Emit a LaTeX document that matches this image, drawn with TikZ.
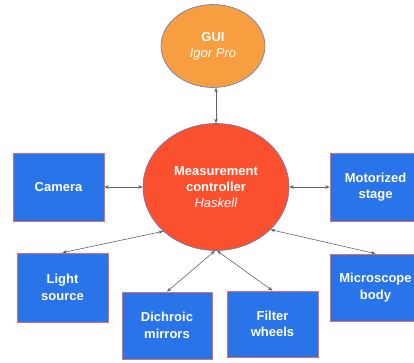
\documentclass[tikz,border=0pt]{standalone}
\usepackage{fontspec}
\setmainfont{Liberation Sans}
\usetikzlibrary{shapes.geometric,arrows.meta,shadows}

\definecolor{guiorange}{RGB}{246,158,64}
\definecolor{ctrlred}{RGB}{250,80,46}
\definecolor{boxblue}{RGB}{40,116,232}
\definecolor{boxedge}{RGB}{222,110,105}
\definecolor{ovaledge}{RGB}{90,125,195}
\definecolor{linkgray}{RGB}{100,100,100}

\tikzset{
  oval/.style={ellipse, draw=ovaledge, line width=0.6pt, inner sep=0pt,
    text=white, align=center, font=\fontsize{13}{16}\selectfont},
  device/.style={rectangle, draw=boxedge, line width=0.7pt, fill=boxblue,
    minimum width=91pt, minimum height=68pt, inner sep=0pt,
    text=white, align=center, font=\bfseries\fontsize{13}{16.5}\selectfont,
    drop shadow={shadow xshift=0.4pt, shadow yshift=-1.4pt, opacity=0.25}},
  link/.style={draw=linkgray, line width=0.6pt,
    {Stealth[length=4.5pt,width=3.6pt]}-{Stealth[length=4.5pt,width=3.6pt]}}
}

\begin{document}
\begin{tikzpicture}[x=1pt,y=-1pt]
  \useasboundingbox (0,0) rectangle (414,362);

  % ovals
  \node[oval, fill=guiorange, minimum width=104pt, minimum height=83pt]
    (gui) at (213,46) {\textbf{GUI}\\\textit{Igor Pro}};
  \node[oval, fill=ctrlred, minimum width=146pt, minimum height=127pt]
    (ctrl) at (216,187) {\textbf{Measurement}\\\textbf{controller}\\\textit{Haskell}};

  % hardware boxes
  \node[device] (cam)   at (58.5,187)  {Camera};
  \node[device] (stage) at (375.5,187) {Motorized\\stage};
  \node[device, minimum height=69pt] (light) at (62.5,287.5) {Light\\source};
  \node[device, minimum width=90pt, minimum height=67pt] (dich) at (167,325.5) {Dichroic\\mirrors};
  \node[device, minimum height=66pt] (filt) at (272.5,324) {Filter\\wheels};
  \node[device, minimum height=67pt] (scope) at (375.5,287.5) {Microscope\\body};

  % connectors
  \draw[link] (ctrl.north) -- (ctrl.north |- gui.south);
  \draw[link] (ctrl.west) -- (cam.east);
  \draw[link] (ctrl.east) -- (stage.west);
  \draw[link] (ctrl.220) -- (light.north);
  \draw[link] (ctrl.322) -- (scope.north);
  \draw[link] (ctrl.269) -- (dich.north);
  \draw[link] (ctrl.271) -- (filt.north);
\end{tikzpicture}
\end{document}
